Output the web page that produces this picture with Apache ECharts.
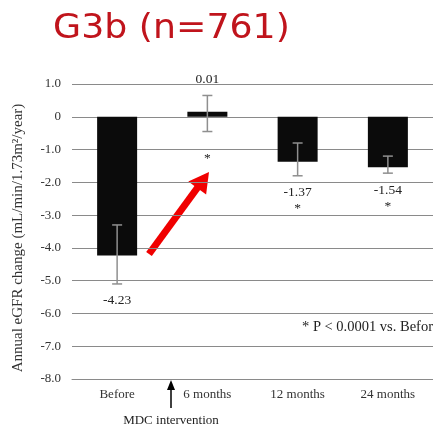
<!DOCTYPE html>
<html><head><meta charset="utf-8">
<script src="https://cdn.jsdelivr.net/npm/echarts@6/dist/echarts.min.js"></script>
<style>html,body{margin:0;padding:0;background:#fff}#c{width:433px;height:430px}</style>
</head><body><div id="c"></div>
<script>
const categories = ['Before', '6 months', '12 months', '24 months'];
const values = [-4.23, 0.01, -1.37, -1.54];
const valueLabels = ['-4.23', '0.01', '-1.37', '-1.54'];
const errLow = [-5.1, -0.45, -1.8, -1.72];
const errHigh = [-3.3, 0.65, -0.8, -1.2];
const sigMarks = ['', '*', '*', '*'];
const titleText = 'G3b (n=761)';
const yAxisTitle = 'Annual eGFR change (mL/min/1.73m²/year)';
const footnote = '* P < 0.0001 vs. Before';
const interventionLabel = 'MDC intervention';

const SERIF = '"Liberation Serif", "Times New Roman", serif';
const chart = echarts.init(document.getElementById('c'), null, {renderer: 'canvas'});

const errData = categories.map((c, i) => [i, errLow[i], errHigh[i], values[i]]);

chart.setOption({
  animation: false,
  backgroundColor: '#fff',
  grid: {left: 72, right: 0, top: 84, bottom: 51},
  xAxis: {
    type: 'category',
    data: categories,
    axisLine: {show: true, onZero: false, lineStyle: {color: '#8a8a8a', width: 1}},
    axisTick: {show: false},
    axisLabel: {color: '#333', fontFamily: SERIF, fontSize: 13, margin: 9}
  },
  yAxis: {
    type: 'value', min: -8, max: 1, interval: 1,
    axisLine: {show: false}, axisTick: {show: false},
    axisLabel: {color: '#333', fontFamily: SERIF, fontSize: 13, margin: 11,
      formatter: v => v === 0 ? '0' : v.toFixed(1)},
    splitLine: {show: true, lineStyle: {color: '#8a8a8a', width: 1}}
  },
  series: [
    {
      type: 'bar', data: values, barWidth: 40, barMinHeight: 5,
      itemStyle: {color: '#0b0b0b'}, z: 2
    },
    {
      type: 'custom', data: errData, encode: {x: 0, y: [1, 2]}, z: 3,
      renderItem: function (params, api) {
        const i = api.value(0);
        const lo = api.coord([i, api.value(1)]);
        const hi = api.coord([i, api.value(2)]);
        const v = api.value(3);
        const x = lo[0];
        const cap = 5;
        const st = {stroke: '#8f8f8f', lineWidth: 1.5};
        const children = [
          {type: 'line', shape: {x1: x, y1: lo[1], x2: x, y2: hi[1]}, style: st},
          {type: 'line', shape: {x1: x - cap, y1: lo[1], x2: x + cap, y2: lo[1]}, style: st},
          {type: 'line', shape: {x1: x - cap, y1: hi[1], x2: x + cap, y2: hi[1]}, style: st}
        ];
        const font = '13.5px ' + SERIF;
        let labelY, starY;
        if (v >= 0) {
          labelY = hi[1] - 16;
          starY = lo[1] + 27;
        } else {
          labelY = lo[1] + 17;
          starY = lo[1] + 33;
        }
        children.push({type: 'text', style: {text: valueLabels[i], x: x, y: labelY,
          textAlign: 'center', textVerticalAlign: 'middle', font: font, fill: '#222'}});
        if (sigMarks[i]) {
          children.push({type: 'text', style: {text: sigMarks[i], x: x, y: starY,
            textAlign: 'center', textVerticalAlign: 'middle', font: font, fill: '#222'}});
        }
        return {type: 'group', children: children};
      }
    }
  ],
  graphic: [
    {type: 'text', x: 53, y: 29, scaleX: 1.1, style: {text: titleText, fill: '#c0141c',
      textAlign: 'left', textVerticalAlign: 'middle',
      font: '33px "DejaVu Sans", sans-serif'}},
    {type: 'text', x: 18, y: 238, rotation: Math.PI / 2, style: {text: yAxisTitle, fill: '#333',
      textAlign: 'center', textVerticalAlign: 'middle', font: '15px ' + SERIF}},
    {type: 'text', x: 302, y: 327, style: {text: footnote, fill: '#222',
      textAlign: 'left', textVerticalAlign: 'middle', font: '14.5px ' + SERIF}},
    {type: 'text', x: 171, y: 421, style: {text: interventionLabel, fill: '#222',
      textAlign: 'center', textVerticalAlign: 'middle', font: '13px ' + SERIF}},
    {type: 'line', shape: {x1: 171, y1: 408, x2: 171, y2: 388}, style: {stroke: '#000', lineWidth: 1.5}},
    {type: 'polygon', shape: {points: [[171, 380], [167, 390], [175, 390]]}, style: {fill: '#000'}},
    {type: 'line', shape: {x1: 149, y1: 254, x2: 198, y2: 187}, style: {stroke: '#f00000', lineWidth: 7}},
    {type: 'polygon', shape: {points: [[209, 172], [206.1, 194.6], [188.3, 181.6]]}, style: {fill: '#f00000'}}
  ]
});
</script>
</body></html>
